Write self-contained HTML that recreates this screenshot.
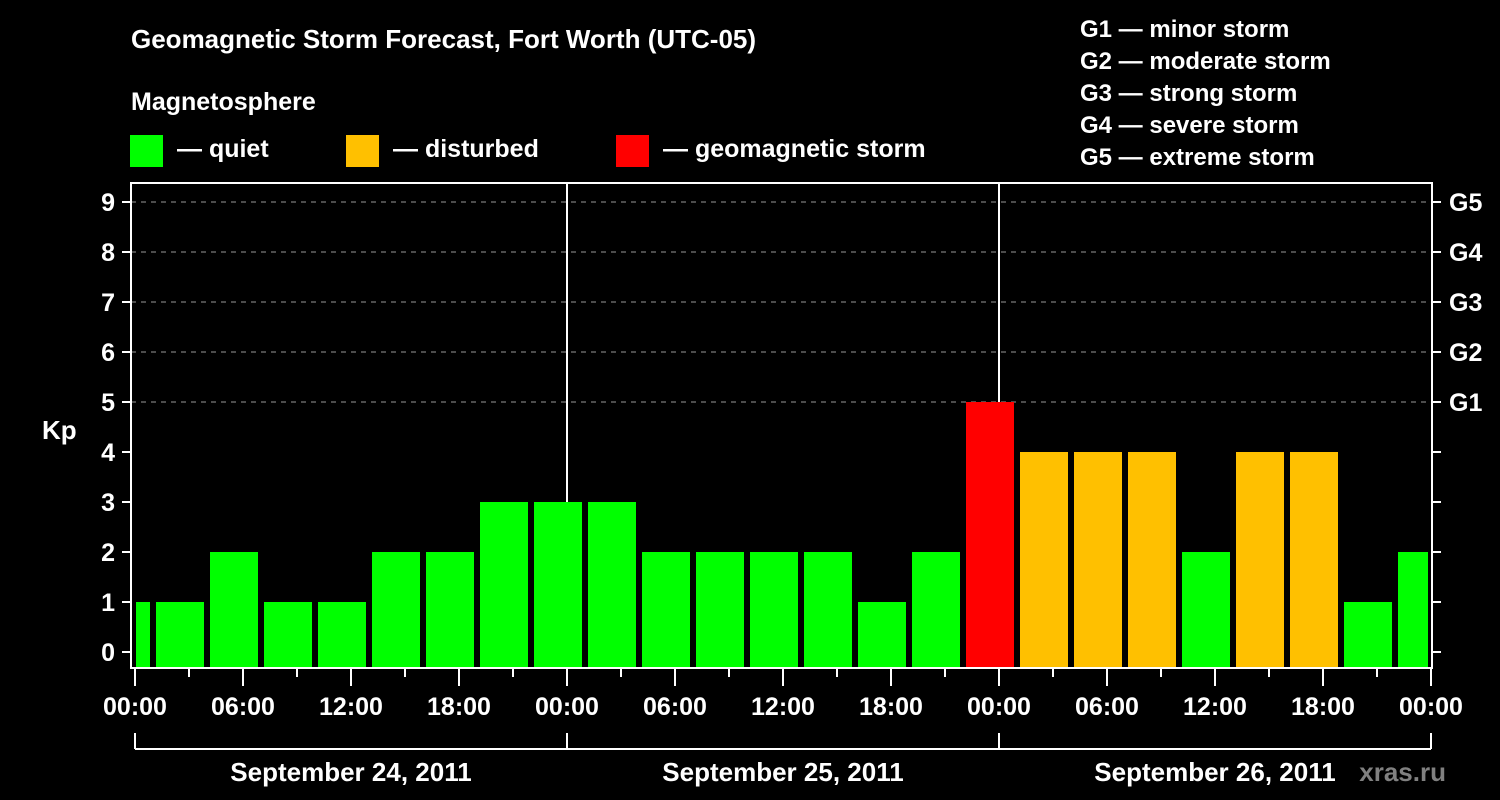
<!DOCTYPE html>
<html><head><meta charset="utf-8">
<style>
html,body{margin:0;padding:0;background:#000;}
svg{display:block;font-family:"Liberation Sans",Arial,sans-serif;font-weight:bold;}
</style></head>
<body>
<svg id="chart" width="1500" height="800" viewBox="0 0 1500 800" xmlns="http://www.w3.org/2000/svg">
<rect x="0" y="0" width="1500" height="800" fill="#000"/>
<text x="131" y="48" fill="#fff" font-size="26">Geomagnetic Storm Forecast, Fort Worth (UTC-05)</text>
<text x="131" y="110" fill="#fff" font-size="25">Magnetosphere</text>
<g>
<rect x="130" y="135" width="33" height="32" fill="#00ff00"/>
<text x="177" y="157" fill="#fff" font-size="25">— quiet</text>
</g>
<g>
<rect x="346" y="135" width="33" height="32" fill="#ffc000"/>
<text x="393" y="157" fill="#fff" font-size="25">— disturbed</text>
</g>
<g>
<rect x="616" y="135" width="33" height="32" fill="#ff0000"/>
<text x="663" y="157" fill="#fff" font-size="25">— geomagnetic storm</text>
</g>
<g fill="#fff" font-size="24">
<text x="1080" y="37">G1 — minor storm</text>
<text x="1080" y="69">G2 — moderate storm</text>
<text x="1080" y="101">G3 — strong storm</text>
<text x="1080" y="133">G4 — severe storm</text>
<text x="1080" y="165">G5 — extreme storm</text>
</g>
<text x="42" y="439" fill="#fff" font-size="26">Kp</text>
<text x="1446" y="781" fill="#808080" font-size="26" text-anchor="end">xras.ru</text>
<g id="grid"></g>
<g id="bars"></g>
<g id="axes"></g>
</svg>
<script>
const kpValues = [1,1,2,1,1,2,2,3,3,3,2,2,2,2,1,2,5,4,4,4,2,4,4,1,2];
const firstBarStartHour = -2;
const barHours = 3;
const totalHours = 72;
const yTicks = [0,1,2,3,4,5,6,7,8,9];
const gLabels = ["G1","G2","G3","G4","G5"];
const gLevels = [5,6,7,8,9];
const hourLabels = ["00:00","06:00","12:00","18:00"];
const dayLabels = ["September 24, 2011","September 25, 2011","September 26, 2011"];

const NS="http://www.w3.org/2000/svg";
const X0=135, PX_H=18, Y0=652, PX_K=50, TOP=183, BOT=668, LEFT=131, RIGHT=1432;
const xs=h=>X0+h*PX_H;
const ys=k=>Y0-k*PX_K;
function mk(tag,attrs,parent){const e=document.createElementNS(NS,tag);for(const k in attrs)e.setAttribute(k,attrs[k]);parent.appendChild(e);return e;}
const grid=document.getElementById('grid'),bars=document.getElementById('bars'),axes=document.getElementById('axes');

gLevels.forEach(k=>{
  const l=mk('line',{x1:LEFT,x2:RIGHT,y1:ys(k),y2:ys(k),stroke:'#999','stroke-width':1,'stroke-dasharray':'5,5'},grid);
  
  
});
for(let d=1;d<3;d++){
  const l=mk('line',{x1:xs(d*24),x2:xs(d*24),y1:TOP,y2:BOT,stroke:'#fff','stroke-width':2},grid);
  
  
}
kpValues.forEach((v,i)=>{
  let s=firstBarStartHour+i*barHours, e=s+barHours;
  let x1=Math.max(xs(s)+3,xs(0)+1), x2=Math.min(xs(e)-3,xs(totalHours)-3);
  const col=v>=5?'#ff0000':(v>=4?'#ffc000':'#00ff00');
  const r=mk('rect',{x:x1,y:ys(v),width:x2-x1,height:BOT-ys(v),fill:col},bars);
  
  
});
const frame=mk('rect',{x:LEFT,y:TOP,width:RIGHT-LEFT,height:BOT-TOP,fill:'none',stroke:'#fff','stroke-width':2},axes);


yTicks.forEach(k=>{
  mk('line',{x1:122,x2:LEFT,y1:ys(k),y2:ys(k),stroke:'#fff','stroke-width':2},axes);
  mk('line',{x1:RIGHT,x2:1441,y1:ys(k),y2:ys(k),stroke:'#fff','stroke-width':2},axes);
  const t=mk('text',{x:115,y:ys(k)+9,fill:'#fff','font-size':25,'text-anchor':'end'},axes);
  t.textContent=k;
  
  
});
gLabels.forEach((g,i)=>{
  const t=mk('text',{x:1449,y:ys(gLevels[i])+9,fill:'#fff','font-size':25},axes);
  t.textContent=g;
  
  
});
for(let h=0;h<=totalHours;h+=3){
  const major=h%6===0;
  mk('line',{x1:xs(h),x2:xs(h),y1:BOT,y2:major?686:677,stroke:'#fff','stroke-width':2},axes);
  if(major){
    const t=mk('text',{x:xs(h),y:715,fill:'#fff','font-size':25,'text-anchor':'middle'},axes);
    t.textContent=hourLabels[(h/6)%4];
    
    
  }
}
const br=mk('line',{x1:xs(0),x2:xs(totalHours),y1:749,y2:749,stroke:'#fff','stroke-width':2},axes);


for(let d=0;d<=3;d++) mk('line',{x1:xs(d*24),x2:xs(d*24),y1:733,y2:749,stroke:'#fff','stroke-width':2},axes);
dayLabels.forEach((lab,d)=>{
  const t=mk('text',{x:xs(d*24+12),y:781,fill:'#fff','font-size':26,'text-anchor':'middle'},axes);
  t.textContent=lab;
  
  
});
</script>
</body></html>
